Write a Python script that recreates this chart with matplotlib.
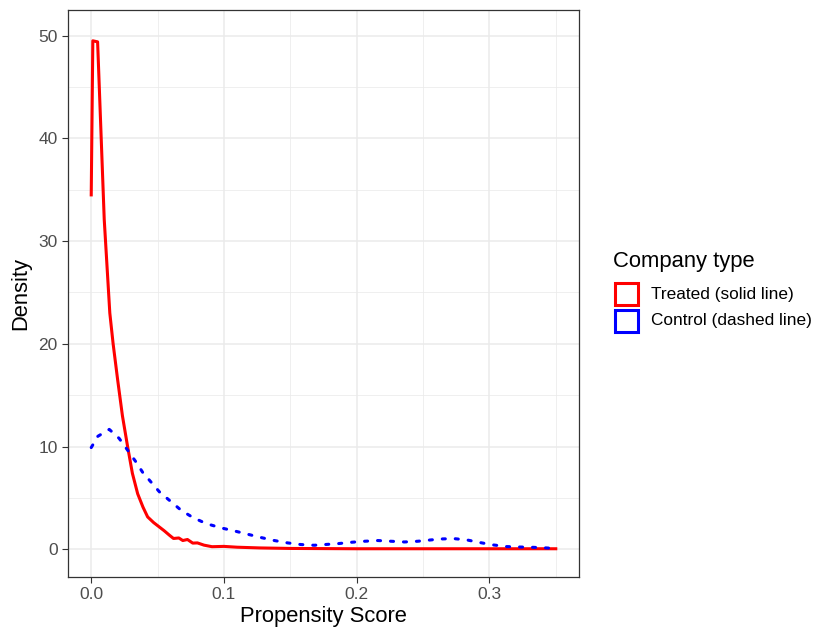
import matplotlib
matplotlib.use("Agg")
import matplotlib.pyplot as plt
from matplotlib.patches import Rectangle

plt.rcParams['font.family'] = ['Liberation Sans', 'DejaVu Sans']

# density curves
treated_x = [0, 0.0012, 0.0048, 0.0098, 0.014, 0.0165, 0.0199, 0.0235, 0.0274, 0.031, 0.035,
             0.039, 0.0425, 0.047, 0.0513, 0.055, 0.059, 0.062, 0.066, 0.069, 0.0725,
             0.0765, 0.08, 0.085, 0.091, 0.1, 0.11, 0.127, 0.15, 0.2, 0.25, 0.3, 0.35]
treated_y = [34.5, 49.5, 49.4, 32.1, 23.0, 20.0, 16.5, 13.0, 10.0, 7.4, 5.4,
             4.1, 3.15, 2.6, 2.17, 1.8, 1.36, 1.05, 1.1, 0.85, 0.95,
             0.6, 0.62, 0.4, 0.25, 0.28, 0.2, 0.13, 0.08, 0.05, 0.05, 0.05, 0.05]

control_x = [0, 0.005, 0.0136, 0.021, 0.0274, 0.0337, 0.0387, 0.0513, 0.0677, 0.0765,
             0.0866, 0.0979, 0.108, 0.118, 0.128, 0.138, 0.148, 0.158, 0.168, 0.176,
             0.186, 0.196, 0.206, 0.216, 0.226, 0.236, 0.246, 0.256, 0.263, 0.273,
             0.283, 0.293, 0.303, 0.313, 0.323, 0.333, 0.343, 0.35]
control_y = [9.9, 11.0, 11.67, 10.8, 9.65, 8.5, 7.5, 5.6, 3.8, 3.1,
             2.5, 2.08, 1.78, 1.46, 1.14, 0.85, 0.62, 0.46, 0.39, 0.46,
             0.55, 0.68, 0.78, 0.85, 0.78, 0.71, 0.78, 0.91, 1.0, 1.04,
             0.91, 0.65, 0.42, 0.26, 0.22, 0.19, 0.13, 0.07]

labels = ['Treated (solid line)', 'Control (dashed line)']
colors = ['#FF0000', '#0000FF']

fig = plt.figure(figsize=(8.15, 6.3), dpi=100)
ax = fig.add_axes([68/815, 53/630, 511/815, 567/630])

ax.plot(treated_x, treated_y, color=colors[0], lw=2.2, solid_joinstyle='round')
ax.plot(control_x, control_y, color=colors[1], lw=2.2, linestyle=(0, (1.0, 3.25)),
        dash_capstyle='round')

ax.set_xlim(-0.0175, 0.3675)
ax.set_ylim(-2.7, 52.5)
ax.set_xticks([0, 0.1, 0.2, 0.3])
ax.set_xticklabels(['0.0', '0.1', '0.2', '0.3'])
ax.set_yticks([0, 10, 20, 30, 40, 50])
ax.set_xticks([0.05, 0.15, 0.25, 0.35], minor=True)
ax.set_yticks([5, 15, 25, 35, 45], minor=True)
ax.grid(True, which='major', color='#EBEBEB', lw=1.1, zorder=0)
ax.grid(True, which='minor', color='#EBEBEB', lw=0.55, zorder=0)
ax.set_axisbelow(True)
ax.tick_params(which='major', length=4.3, width=0.8, color='#333333',
               labelsize=12.5, labelcolor='#4D4D4D', pad=3)
ax.tick_params(which='minor', length=0)
for s in ax.spines.values():
    s.set_color('#333333')
    s.set_linewidth(0.9)

ax.set_xlabel('Propensity Score', fontsize=15.8, labelpad=3)
ax.set_ylabel('Density', fontsize=15.8, labelpad=5)

# legend drawn by hand
def fx(px):
    return px / 815

def fy(py):
    return 1 - py / 630

fig.text(fx(613), fy(261), 'Company type', fontsize=15.8, va='center', ha='left')
for i, (lab, c) in enumerate(zip(labels, colors)):
    top = 283 + i * 27
    fig.add_artist(Rectangle((fx(615), fy(top + 22)), fx(23), 22/630,
                             transform=fig.transFigure, fill=False, edgecolor=c, lw=2.2))
    fig.text(fx(651), fy(top + 11), lab, fontsize=12.4, va='center', ha='left')

fig.savefig('out.png', dpi=100)
